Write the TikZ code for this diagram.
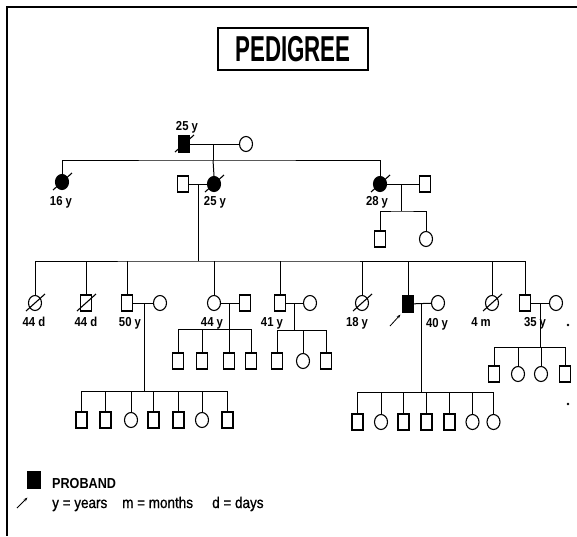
\documentclass[tikz,border=0pt]{standalone}
\usepackage{fontspec}
\usetikzlibrary{shapes.geometric,arrows.meta}
\newfontfamily\lf[FakeStretch=0.87]{Liberation Sans}
\newfontfamily\mf[FakeStretch=0.87,FakeBold=0.8]{Liberation Sans}
\newfontfamily\tf[FakeStretch=0.62]{Liberation Sans}
\tikzset{
 male/.style={draw,rectangle,minimum width=11pt,minimum height=16pt,inner sep=0pt,line width=1.1pt},
 female/.style={draw,ellipse,minimum width=13pt,minimum height=15pt,inner sep=0pt,line width=1.1pt},
 aff/.style={fill=black},
 lbl/.style={font=\lf\bfseries\fontsize{13}{15}\selectfont,inner sep=0pt,anchor=base},
 lnk/.style={line width=1pt},
 slash/.style={line width=1.1pt},
 parrow/.style={line width=0.8pt,-{Stealth[length=4pt,width=3pt]}},
 legtext/.style={font=\mf\fontsize{15.5}{17}\selectfont,anchor=base west,inner sep=0pt},
}
\newcommand\dcsd[1]{\draw[slash] (#1.center) ++(-9,8) -- ++(19,-17);}
\begin{document}
\begin{tikzpicture}[x=1pt,y=-1pt]
\useasboundingbox (0,0) rectangle (577,536);
\draw[line width=1.2pt] (577,7) -- (7,7) -- (7,536);
\node[draw,line width=1.1pt,minimum width=150pt,minimum height=42pt,inner sep=0pt,
  font=\tf\bfseries\fontsize{36}{40}\selectfont] (title) at (293,49) {PEDIGREE};

% generation I
\node[male,aff] (g1m) at (184,144) {};
\node[female] (g1f) at (246,144) {};
\dcsd{g1m}
\coordinate (g1d) at (213,144);
\coordinate (g1s) at (213,160);
\draw[lnk] (g1m) -- (g1f);
\draw[lnk] (g1d) -- (g1s);
\node[lbl] (l1) at (187,130) {25 y};

% generation II
\node[female,aff] (a1) at (62,182) {};
\node[male] (a2h) at (183,184) {};
\node[female,aff] (a2) at (214,184) {};
\node[female,aff] (a3) at (380,184) {};
\node[male] (a3h) at (425,184) {};
\dcsd{a1}\dcsd{a2}\dcsd{a3}
\draw[lnk] (a1.north) |- (g1s) -| (a3.north);
\draw[lnk] (g1s) -- (a2.north);
\draw[lnk] (a2h) -- (a2);
\draw[lnk] (a3) -- (a3h);
\node[lbl] (l2) at (61,205) {16 y};
\node[lbl] (l3) at (215,205) {25 y};
\node[lbl] (l4) at (377,205) {28 y};

% children of 28 y
\coordinate (a3d) at (401,184);
\coordinate (a3s) at (401,211);
\node[male] (b1) at (380,239) {};
\node[female] (b2) at (426,239) {};
\draw[lnk] (a3d) -- (a3s);
\draw[lnk] (b1.north) |- (a3s) -| (b2.north);

% generation III
\coordinate (a2d) at (198,184);
\coordinate (a2s) at (198,261);
\draw[lnk] (a2d) -- (a2s);
\node[female] (c1) at (35,303) {};
\node[male] (c2) at (86,303) {};
\node[male] (c3) at (127,303) {};
\node[female] (c3w) at (160,303) {};
\node[female] (c4) at (214,303) {};
\node[male] (c4h) at (245,303) {};
\node[male] (c5) at (280,303) {};
\node[female] (c5w) at (310,303) {};
\node[female] (c6) at (362,303) {};
\node[male,aff] (c7) at (408,304) {};
\node[female] (c7w) at (438,303) {};
\node[female] (c8) at (492,303) {};
\node[male] (c9) at (525,303) {};
\node[female] (c9w) at (556,303) {};
\dcsd{c1}\dcsd{c2}\dcsd{c6}\dcsd{c8}
\draw[lnk] (c1.north) |- (a2s) -| (c9.north);
\foreach \n in {c2,c3,c4,c5,c6,c7,c8}{\draw[lnk] (\n.north) -- (\n.north |- a2s);}
\draw[lnk] (c3) -- (c3w);
\draw[lnk] (c4) -- (c4h);
\draw[lnk] (c5) -- (c5w);
\draw[lnk] (c7) -- (c7w);
\draw[lnk] (c9) -- (c9w);
\node[lbl] (l5) at (34,326) {44 d};
\node[lbl] (l6) at (86,326) {44 d};
\node[lbl] (l7) at (130,326) {50 y};
\node[lbl] (l8) at (212,326) {44 y};
\node[lbl] (l9) at (272,326) {41 y};
\node[lbl] (l10) at (357,326) {18 y};
\node[lbl] (l11) at (437,327) {40 y};
\node[lbl] (l12) at (481,326) {4 m};
\node[lbl] (l13) at (535,326) {35 y};
\coordinate (pa) at (390,326);
\draw[parrow] (pa) -- ([shift={(-1.5,2)}]c7.south west);

% generation IV: family of 50 y
\coordinate (f3d) at (144,303);
\coordinate (f3s) at (144,391);
\draw[lnk] (f3d) -- (f3s);
\foreach \x/\t [count=\i] in {81.5/male,105.5/male,131/female,153.5/male,178.5/male,202/female,227.5/male}{
  \node[\t] (f3k\i) at (\x,420) {};
  \draw[lnk] (f3k\i.north) -- (f3k\i.north |- f3s);}
\draw[lnk] (f3k1.north |- f3s) -- (f3k7.north |- f3s);

% family of 44 y
\coordinate (f4d) at (229,303);
\coordinate (f4s) at (229,329);
\draw[lnk] (f4d) -- (f4s);
\foreach \x/\t [count=\i] in {178/male,202/male,229/male,251/male}{
  \node[\t] (f4k\i) at (\x,361) {};
  \draw[lnk] (f4k\i.north) -- (f4k\i.north |- f4s);}
\draw[lnk] (f4k1.north |- f4s) -- (f4k4.north |- f4s);

% family of 41 y
\coordinate (f5d) at (294,303);
\coordinate (f5s) at (294,330);
\draw[lnk] (f5d) -- (f5s);
\foreach \x/\t [count=\i] in {277/male,303/female,326/male}{
  \node[\t] (f5k\i) at (\x,361) {};
  \draw[lnk] (f5k\i.north) -- (f5k\i.north |- f5s);}
\draw[lnk] (f5k1.north |- f5s) -- (f5k3.north |- f5s);

% family of proband
\coordinate (f7d) at (421,303);
\coordinate (f7s) at (421,392);
\draw[lnk] (f7d) -- (f7s);
\foreach \x/\t [count=\i] in {357.5/male,381/female,403.5/male,426.5/male,449.5/male,472.5/female,493.5/female}{
  \node[\t] (f7k\i) at (\x,422) {};
  \draw[lnk] (f7k\i.north) -- (f7k\i.north |- f7s);}
\draw[lnk] (f7k1.north |- f7s) -- (f7k7.north |- f7s);

% family of 35 y
\coordinate (f9d) at (540,303);
\coordinate (f9s) at (540,347);
\draw[lnk] (f9d) -- (f9s);
\foreach \x/\t [count=\i] in {494/male,518/female,541/female,565/male}{
  \node[\t] (f9k\i) at (\x,374) {};
  \draw[lnk] (f9k\i.north) -- (f9k\i.north |- f9s);}
\draw[lnk] (f9k1.north |- f9s) -- (f9k4.north |- f9s);

\fill (568,325) circle (1.3);
\fill (568,404) circle (1.3);

% legend
\node[male,aff,minimum width=12pt] (leg) at (34,480) {};
\coordinate (la) at (17,508);
\draw[parrow] (la) -- ([shift={(0,9)}]leg.south west);
\node[font=\lf\bfseries\fontsize{14.5}{16}\selectfont,anchor=base west,inner sep=0pt] (lp) at (52,488) {PROBAND};
\node[legtext] (ly) at (52,508) {y = years};
\node[legtext] (lm) at (122,508) {m = months};
\node[legtext] (ld) at (212,508) {d = days};
\end{tikzpicture}
\end{document}
